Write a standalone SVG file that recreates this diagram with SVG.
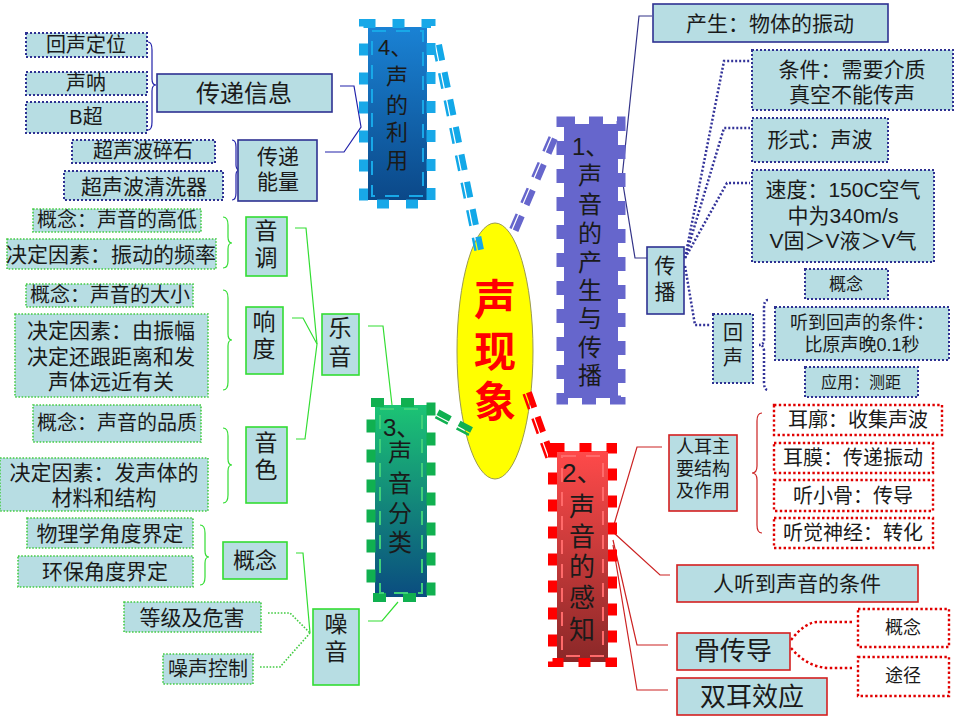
<svg xmlns="http://www.w3.org/2000/svg" width="960" height="720" viewBox="0 0 960 720">
<defs>
<linearGradient id="g4" x1="0" y1="0" x2="0" y2="1"><stop offset="0" stop-color="#1a82d4"/><stop offset="1" stop-color="#0b4888"/></linearGradient>
<linearGradient id="g2" x1="0" y1="0" x2="0" y2="1"><stop offset="0" stop-color="#ff4a4a"/><stop offset="1" stop-color="#8a2828"/></linearGradient>
<linearGradient id="g3" x1="0" y1="0" x2="0" y2="1"><stop offset="0" stop-color="#1cc474"/><stop offset="1" stop-color="#0a4c80"/></linearGradient>
<style>
text{font-family:"Liberation Sans","Noto Sans CJK SC",sans-serif;fill:#1a1a1a;text-anchor:middle;dominant-baseline:central}
.tl{text-anchor:start}
.c{fill:#b7dde3}
.w{fill:#fff}
.bs{stroke:#2e3192;stroke-width:1.6}
.bd{stroke:#2e3192;stroke-width:2;stroke-dasharray:2 2}
.rs{stroke:#d42020;stroke-width:1.6}
.rd{stroke:#e00000;stroke-width:2.4;stroke-dasharray:2.4 2.4}
.gs{stroke:#33dd33;stroke-width:1.6}
.gd{stroke:#44cc44;stroke-width:1.6;stroke-dasharray:1.6 1.6}
.ln{fill:none;stroke-width:1.2}
.lb{stroke:#2222aa}
.ln1{stroke:#333388}
.lr{stroke:#cc2222}
.lg{stroke:#33dd33}
.dn{fill:none;stroke:#333399;stroke-width:2.5;stroke-dasharray:2 2}
.dr{fill:none;stroke:#e00000;stroke-width:2.5;stroke-dasharray:2.5 2.5}
.dg{fill:none;stroke:#44cc44;stroke-width:1.6;stroke-dasharray:1.6 1.6}
.mn{font-size:24px}
.red{fill:#ff0000;font-weight:bold;font-size:42px}
</style>
</defs>
<rect width="960" height="720" fill="#fff"/>

<g id="center">
<ellipse cx="495" cy="351" rx="38" ry="128" fill="#ffff00" stroke="#9a9a50" stroke-width="1"/>
<text x="495" y="300" class="red">声</text>
<text x="495" y="352" class="red">现</text>
<text x="495" y="402" class="red">象</text>
</g>

<g id="connectors">
<!-- thick dashed links -->
<line x1="438.96" y1="44.6" x2="480.96" y2="249.6" stroke="#12a8e8" stroke-width="6" stroke-dasharray="16 12"/>
<line x1="433.57" y1="45.7" x2="475.57" y2="250.7" stroke="#12a8e8" stroke-width="2.5" stroke-dasharray="16 12"/>
<line x1="554.84" y1="138.79" x2="513.84" y2="234.79" stroke="#6666cc" stroke-width="6" stroke-dasharray="16 12"/>
<line x1="549.78" y1="136.62" x2="508.78" y2="232.62" stroke="#6666cc" stroke-width="2.5" stroke-dasharray="16 12"/>
<line x1="528.88" y1="392.33" x2="552.88" y2="459.33" stroke="#ff0000" stroke-width="6" stroke-dasharray="16 10"/>
<line x1="523.71" y1="394.18" x2="547.71" y2="461.18" stroke="#ff0000" stroke-width="2.5" stroke-dasharray="16 10"/>
<line x1="437.94" y1="412.23" x2="471.94" y2="430.23" stroke="#10b050" stroke-width="6" stroke-dasharray="14 10"/>
<line x1="435.36" y1="417.09" x2="469.36" y2="435.09" stroke="#10b050" stroke-width="2.5" stroke-dasharray="14 10"/>
<!-- node4 branch -->
<path class="ln lb" d="M340,86 L354,86 L361,127 L344,152 L325,152"/>
<path class="ln lb" d="M148,42 Q152,42 152,50 L152,79 Q152,85 156,85 Q152,85 152,91 L152,122 Q152,130 148,130"/>
<path class="ln lb" d="M232,140 Q236,140 236,147 L236,165 Q236,170 240,170 Q236,170 236,175 L236,193 Q236,200 232,200"/>
<!-- node1 branch -->
<path class="ln ln1" d="M652,16 L639,16 L622,178 L635,258 L647,258"/>
<path class="dn" d="M685,258 L724,61 L750,61"/>
<path class="dn" d="M685,258 L724,128 L750,128"/>
<path class="dn" d="M685,258 L727,183 L750,183"/>
<path class="dn" d="M685,266 L695,325 L711,325"/>
<path class="dn" d="M768,300 Q764,300 764,308 L764,339 Q764,345 759,345 Q764,345 764,351 L764,382 Q764,390 768,390"/>
<!-- node2 branch -->
<path class="ln lr" d="M613,528 L637,447 L662,447"/>
<path class="ln lr" d="M614,533 L660,575 L670,575"/>
<path class="ln lr" d="M613,540 L637,645 L668,645"/>
<path class="ln lr" d="M613,545 L637,690 L668,690"/>
<path class="ln lr" d="M762,413 Q757,413 757,421 L757,466 Q757,473 752,473 Q757,473 757,480 L757,525 Q757,533 762,533"/>
<path class="dr" d="M791,640 Q805,622 818,622 L852,622"/>
<path class="dr" d="M791,648 Q808,668 830,668 L852,668"/>
<!-- node3 branch -->
<path class="ln lg" d="M295,228 L306,228 L317,344"/>
<path class="ln lg" d="M292,318 L303,318 L317,344"/>
<path class="ln lg" d="M296,439 L305,439 L317,344"/>
<path class="ln lg" d="M368,326 L383,326 L392,405"/>
<path class="ln lg" d="M223,217 Q228,217 228,225 L228,237 Q228,243 232,243 Q228,243 228,249 L228,261 Q228,268 223,268"/>
<path class="ln lg" d="M223,290 Q228,290 228,298 L228,334 Q228,340 232,340 Q228,340 228,346 L228,382 Q228,390 223,390"/>
<path class="ln lg" d="M223,428 Q228,428 228,436 L228,459 Q228,465 232,465 Q228,465 228,471 L228,495 Q228,503 223,503"/>
<path class="ln lg" d="M200,525 Q205,525 205,533 L205,551 Q205,557 209,557 Q205,557 205,563 L205,577 Q205,585 200,585"/>
<path class="ln lg" d="M296,553 L303,553 L310,633"/>
<path class="dg" d="M268,613 L290,613 L310,633"/>
<path class="dg" d="M260,667 L280,667 L310,633"/>
<path class="ln lg" d="M368,621 L382,621 L398,602"/>
</g>

<g id="node4">
<rect x="368" y="27" width="59" height="173" fill="url(#g4)"/>
<rect x="363.5" y="23.5" width="67.5" height="180.5" fill="none" stroke="#18a8e8" stroke-width="9" stroke-dasharray="12 17"/>
<rect x="372" y="31" width="51" height="165" fill="none" stroke="#18a8e8" stroke-width="2" stroke-dasharray="14 10"/>
<text x="378" y="47" class="tl" style="font-size:22px">4、</text>
<text x="397" y="76" style="font-size:22px">声</text>
<text x="397" y="105" style="font-size:22px">的</text>
<text x="397" y="132" style="font-size:22px">利</text>
<text x="397" y="160" style="font-size:22px">用</text>
</g>

<g id="node1">
<rect x="564" y="124" width="54" height="274" fill="#6666cc"/>
<rect x="561" y="121" width="60" height="279" fill="none" stroke="#6666cc" stroke-width="9" stroke-dasharray="14 14"/>
<text x="572" y="146" class="tl mn">1、</text>
<text x="590" y="175" class="mn">声</text>
<text x="590" y="204" class="mn">音</text>
<text x="590" y="233" class="mn">的</text>
<text x="590" y="262" class="mn">产</text>
<text x="590" y="290" class="mn">生</text>
<text x="590" y="318" class="mn">与</text>
<text x="590" y="347" class="mn">传</text>
<text x="590" y="375" class="mn">播</text>
</g>

<g id="node2">
<rect x="557" y="451" width="51" height="211" fill="url(#g2)"/>
<rect x="552.5" y="447.5" width="60" height="215" fill="none" stroke="#ff0000" stroke-width="9" stroke-dasharray="12 15"/>
<rect x="562" y="456" width="41" height="200" fill="none" stroke="#ff6a6a" stroke-width="2" stroke-dasharray="14 10"/>
<text x="562" y="473" class="tl" style="font-size:26px">2、</text>
<text x="582" y="507" style="font-size:26px">声</text>
<text x="582" y="537" style="font-size:26px">音</text>
<text x="582" y="567" style="font-size:26px">的</text>
<text x="582" y="598" style="font-size:26px">感</text>
<text x="582" y="630" style="font-size:26px">知</text>
</g>

<g id="node3">
<rect x="375" y="405" width="52" height="192" fill="url(#g3)"/>
<rect x="371" y="402.5" width="60" height="195" fill="none" stroke="#10b050" stroke-width="9" stroke-dasharray="13 17"/>
<rect x="380" y="409" width="42" height="184" fill="none" stroke="#3fd07a" stroke-width="2" stroke-dasharray="14 10"/>
<text x="383" y="427" class="tl mn">3、</text>
<text x="400" y="452" class="mn">声</text>
<text x="400" y="483" class="mn">音</text>
<text x="400" y="513" class="mn">分</text>
<text x="400" y="542" class="mn">类</text>
</g>

<!-- node1 leaves -->
<g id="n-chansheng"><rect x="653" y="4" width="235" height="38" class="c bs"/><text x="770" y="23" style="font-size:21px">产生：物体的振动</text></g>
<g id="n-chuanbo"><rect x="647" y="247" width="37" height="67" class="c bs"/><text x="665" y="265" style="font-size:21px">传</text><text x="665" y="291" style="font-size:21px">播</text></g>
<g id="n-tiaojian"><rect x="752" y="50" width="201" height="60" class="c bd"/><text x="852" y="69" style="font-size:21px">条件：需要介质</text><text x="852" y="94" style="font-size:21px">真空不能传声</text></g>
<g id="n-xingshi"><rect x="752" y="118" width="136" height="44" class="c bd"/><text x="820" y="139" style="font-size:21px">形式：声波</text></g>
<g id="n-sudu"><rect x="752" y="170" width="182" height="92" class="c bd"/><text x="843" y="189" style="font-size:21px">速度：150C空气</text><text x="843" y="215" style="font-size:21px">中为340m/s</text><text x="843" y="240" style="font-size:21px">V固＞V液＞V气</text></g>
<g id="n-huisheng"><rect x="713" y="314" width="40" height="69" class="c bd"/><text x="733" y="333" style="font-size:20px">回</text><text x="733" y="358" style="font-size:20px">声</text></g>
<g id="n-gainian1"><rect x="805" y="269" width="83" height="30" class="c bd"/><text x="846" y="284" style="font-size:17px">概念</text></g>
<g id="n-tiaojian2"><rect x="775" y="307" width="174" height="53" class="c bd"/><text x="862" y="323" style="font-size:18px">听到回声的条件：</text><text x="862" y="345" style="font-size:18px">比原声晚0.1秒</text></g>
<g id="n-yingyong"><rect x="805" y="367" width="113" height="30" class="c bd"/><text x="861" y="382" style="font-size:16px">应用：测距</text></g>

<!-- node2 leaves -->
<g id="n-renerzhu"><rect x="669" y="435" width="68" height="76" class="c rs"/><text x="703" y="447" style="font-size:18px">人耳主</text><text x="703" y="469" style="font-size:18px">要结构</text><text x="703" y="491" style="font-size:18px">及作用</text></g>
<g id="n-erkuo"><rect x="774" y="405" width="168" height="30" class="w rd"/><text x="858" y="420" style="font-size:20px">耳廓：收集声波</text></g>
<g id="n-ermo"><rect x="774" y="443" width="159" height="30" class="w rd"/><text x="853" y="458" style="font-size:20px">耳膜：传递振动</text></g>
<g id="n-tingxiaogu"><rect x="774" y="480" width="159" height="31" class="w rd"/><text x="853" y="496" style="font-size:20px">听小骨：传导</text></g>
<g id="n-tingjue"><rect x="774" y="518" width="159" height="30" class="w rd"/><text x="853" y="533" style="font-size:20px">听觉神经：转化</text></g>
<g id="n-rentingdao"><rect x="677" y="565" width="241" height="37" class="c rs"/><text x="797" y="583" style="font-size:21px">人听到声音的条件</text></g>
<g id="n-guchuandao"><rect x="677" y="633" width="113" height="37" class="c rs"/><text x="733" y="651" style="font-size:26px">骨传导</text></g>
<g id="n-shuanger"><rect x="677" y="678" width="150" height="37" class="c rs"/><text x="752" y="697" style="font-size:26px">双耳效应</text></g>
<g id="n-gainian2"><rect x="858" y="609" width="91" height="38" class="w rd"/><text x="903" y="628" style="font-size:18px">概念</text></g>
<g id="n-tujing"><rect x="858" y="657" width="91" height="39" class="w rd"/><text x="903" y="676" style="font-size:18px">途径</text></g>

<!-- node4 leaves -->
<g id="n-xinxi"><rect x="157" y="74" width="175" height="38" class="c bs"/><text x="244" y="93" style="font-size:24px">传递信息</text></g>
<g id="n-huishengdw"><rect x="26" y="33" width="121" height="24" class="c bd"/><text x="86" y="45" style="font-size:20px">回声定位</text></g>
<g id="n-shengna"><rect x="26" y="72" width="121" height="23" class="c bd"/><text x="86" y="83" style="font-size:20px">声呐</text></g>
<g id="n-bchao"><rect x="26" y="102" width="121" height="31" class="c bd"/><text x="86" y="117" style="font-size:20px">B超</text></g>
<g id="n-suishi"><rect x="72" y="140" width="143" height="23" class="c bd"/><text x="143" y="151" style="font-size:20px">超声波碎石</text></g>
<g id="n-qingxi"><rect x="64" y="171" width="159" height="29" class="c bd"/><text x="144" y="186" style="font-size:21px">超声波清洗器</text></g>
<g id="n-nengliang"><rect x="238" y="140" width="79" height="61" class="c bs"/><text x="278" y="156" style="font-size:21px">传递</text><text x="278" y="181" style="font-size:21px">能量</text></g>

<!-- node3 leaves -->
<g id="n-yindiao"><rect x="246" y="217" width="41" height="59" class="c gs"/><text x="266" y="231" style="font-size:23px">音</text><text x="266" y="258" style="font-size:23px">调</text></g>
<g id="n-xiangdu"><rect x="246" y="307" width="37" height="67" class="c gs"/><text x="264" y="322" style="font-size:23px">响</text><text x="264" y="349" style="font-size:23px">度</text></g>
<g id="n-yinse"><rect x="246" y="427" width="41" height="76" class="c gs"/><text x="266" y="443" style="font-size:23px">音</text><text x="266" y="470" style="font-size:23px">色</text></g>
<g id="n-yueyin"><rect x="322" y="314" width="37" height="61" class="c gs"/><text x="340" y="328" style="font-size:23px">乐</text><text x="340" y="357" style="font-size:23px">音</text></g>
<g id="n-gaodi"><rect x="33" y="209" width="168" height="23" class="c gd"/><text x="117" y="220" style="font-size:20px">概念：声音的高低</text></g>
<g id="n-pinlv"><rect x="7" y="239" width="209" height="30" class="c gd"/><text x="111" y="254" style="font-size:21px">决定因素：振动的频率</text></g>
<g id="n-daxiao"><rect x="26" y="284" width="167" height="23" class="c gd"/><text x="110" y="295" style="font-size:20px">概念：声音的大小</text></g>
<g id="n-zhenfu"><rect x="15" y="314" width="193" height="83" class="c gd"/><text x="111" y="330" style="font-size:21px">决定因素：由振幅</text><text x="111" y="356" style="font-size:21px">决定还跟距离和发</text><text x="111" y="381" style="font-size:21px">声体远近有关</text></g>
<g id="n-pinzhi"><rect x="33" y="405" width="168" height="37" class="c gd"/><text x="117" y="423" style="font-size:20px">概念：声音的品质</text></g>
<g id="n-cailiao"><rect x="0" y="458" width="208" height="53" class="c gd"/><text x="104" y="472" style="font-size:21px">决定因素：发声体的</text><text x="104" y="497" style="font-size:21px">材料和结构</text></g>
<g id="n-wuli"><rect x="27" y="518" width="166" height="30" class="c gd"/><text x="110" y="533" style="font-size:21px">物理学角度界定</text></g>
<g id="n-huanbao"><rect x="18" y="556" width="175" height="31" class="c gd"/><text x="105" y="571" style="font-size:21px">环保角度界定</text></g>
<g id="n-gainian3"><rect x="223" y="542" width="64" height="37" class="c gs"/><text x="255" y="560" style="font-size:22px">概念</text></g>
<g id="n-dengji"><rect x="124" y="602" width="137" height="30" class="c gd"/><text x="192" y="617" style="font-size:21px">等级及危害</text></g>
<g id="n-kongzhi"><rect x="163" y="654" width="90" height="30" class="c gd"/><text x="208" y="669" style="font-size:20px">噪声控制</text></g>
<g id="n-zaoyin"><rect x="313" y="609" width="46" height="76" class="c gs"/><text x="336" y="624" style="font-size:23px">噪</text><text x="336" y="652" style="font-size:23px">音</text></g>
</svg>
